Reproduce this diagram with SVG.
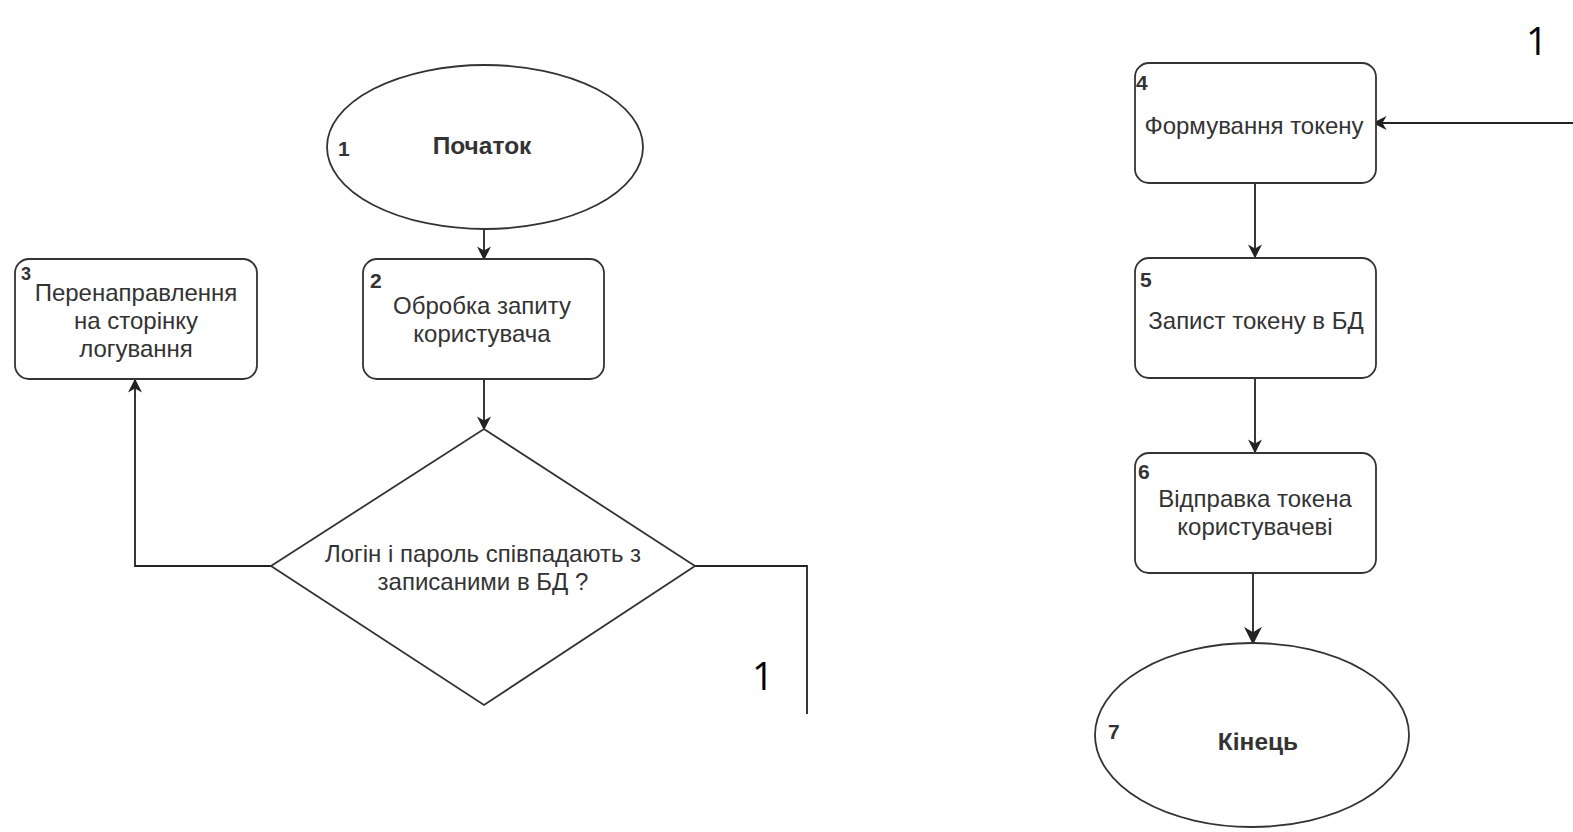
<svg xmlns="http://www.w3.org/2000/svg" width="1573" height="832" viewBox="0 0 1573 832">
<style>
.shape{fill:#fff;stroke:#333;stroke-width:1.8}
.t{font-family:"Liberation Sans",Arial,sans-serif;font-size:24px;fill:#333;text-anchor:middle}
.n{font-family:"Liberation Sans",Arial,sans-serif;font-size:21px;font-weight:bold;fill:#333}
.b{font-weight:bold;font-size:24.5px}
.big{font-family:"Open Sans","Liberation Sans",sans-serif;font-size:38px;fill:#000}
.c{fill:none;stroke:#222;stroke-width:1.8}
</style>
<defs>
<marker id="ah" viewBox="0 0 10 10" refX="9" refY="5" markerWidth="14" markerHeight="14" markerUnits="userSpaceOnUse" orient="auto">
<path d="M0,0 L10,5 L0,10 L3,5 z" fill="#222"/>
</marker>
<marker id="ahb" viewBox="0 0 10 10" refX="9" refY="5" markerWidth="18" markerHeight="18" markerUnits="userSpaceOnUse" orient="auto">
<path d="M0,0 L10,5 L0,10 L3,5 z" fill="#222"/>
</marker>
</defs>
<g id="connectors">
<path class="c" d="M484,229 V259" marker-end="url(#ah)"/>
<path class="c" d="M484,379 V429" marker-end="url(#ah)"/>
<path class="c" d="M271,566 H135 V380" marker-end="url(#ah)"/>
<path class="c" d="M695,566 H807 V714"/>
<path class="c" d="M1573,123 H1374" marker-end="url(#ah)"/>
<path class="c" d="M1255,183 V257" marker-end="url(#ah)"/>
<path class="c" d="M1255,377 V452" marker-end="url(#ah)"/>
<path class="c" stroke-width="2.2" d="M1253,573 V643" marker-end="url(#ahb)"/>
</g>
<g id="n1">
<ellipse class="shape" cx="485" cy="147" rx="158" ry="82"/>
<text class="n" x="338" y="156">1</text>
<text class="t b" x="482" y="154">Початок</text>
</g>
<g id="n2">
<rect class="shape" x="363" y="259" width="241" height="120" rx="14"/>
<text class="n" x="370" y="288">2</text>
<text class="t" x="482" y="314">Обробка запиту</text>
<text class="t" x="482" y="342">користувача</text>
</g>
<g id="n3">
<rect class="shape" x="15" y="259" width="242" height="120" rx="14"/>
<text class="n" x="21" y="280" style="font-size:18px">3</text>
<text class="t" x="136" y="301">Перенаправлення</text>
<text class="t" x="136" y="329">на сторінку</text>
<text class="t" x="136" y="357">логування</text>
</g>
<g id="n_decision">
<polygon class="shape" points="484,429 695,566 484,705 271,566"/>
<text class="t" x="483" y="562">Логін і пароль співпадають з</text>
<text class="t" x="483" y="590">записаними в БД ?</text>
</g>
<g id="n4">
<rect class="shape" x="1135" y="63" width="241" height="120" rx="14"/>
<text class="n" x="1136" y="90">4</text>
<text class="t" x="1254" y="134">Формування токену</text>
</g>
<g id="n5">
<rect class="shape" x="1135" y="258" width="241" height="120" rx="14"/>
<text class="n" x="1140" y="287">5</text>
<text class="t" x="1256" y="329">Запист токену в БД</text>
</g>
<g id="n6">
<rect class="shape" x="1135" y="453" width="241" height="120" rx="14"/>
<text class="n" x="1138" y="479">6</text>
<text class="t" x="1255" y="507">Відправка токена</text>
<text class="t" x="1255" y="535">користувачеві</text>
</g>
<g id="n7">
<ellipse class="shape" cx="1252" cy="735" rx="157" ry="92"/>
<text class="n" x="1108" y="739">7</text>
<text class="t b" x="1258" y="750">Кінець</text>
</g>
<g id="labels">
<text class="big" x="752" y="690">1</text>
<text class="big" x="1526" y="55">1</text>
</g>
</svg>
